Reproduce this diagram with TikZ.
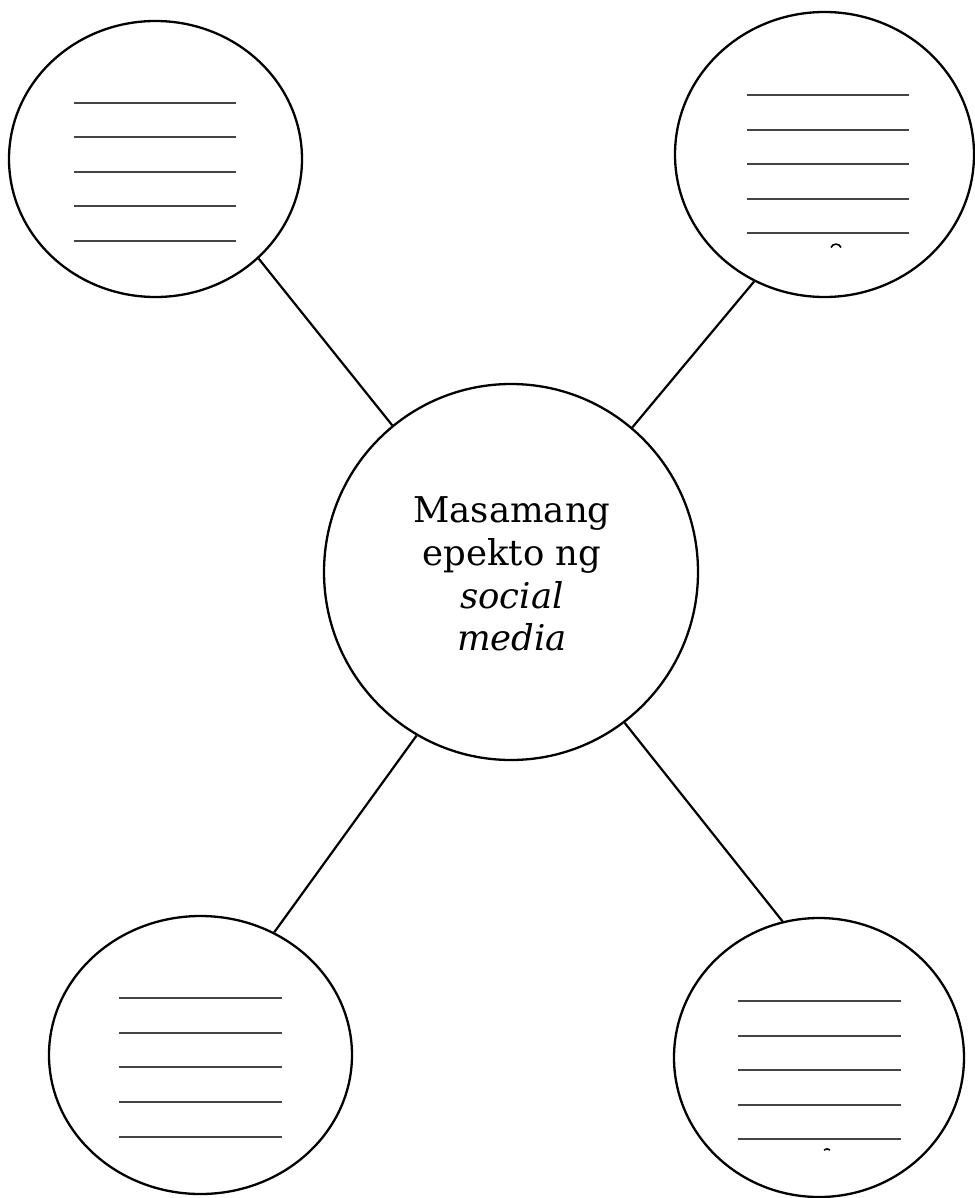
\documentclass[tikz,border=0pt]{standalone}
\usepackage{fontspec}
\setmainfont{DejaVu Serif}
\usetikzlibrary{shapes.geometric}
\definecolor{blankgray}{HTML}{444444}
\tikzset{
  bubble/.style={draw=black, line width=2.3pt, ellipse, inner sep=0pt, fill=white},
  link/.style={draw=black, line width=2.2pt},
  blank/.style={draw=blankgray, line width=1.5pt},
  glyphbit/.style={draw=black, line width=1.6pt},
  lbl/.style={anchor=base, inner sep=0pt, font=\fontsize{35.5}{43}\selectfont}
}
\begin{document}
\begin{tikzpicture}[x=1pt, y=-1pt]
\useasboundingbox (0,0) rectangle (974,1198);
% bubbles
\node[bubble, minimum width=293pt, minimum height=276pt] (tl) at (155.5,159) {};
\node[bubble, minimum width=299pt, minimum height=285pt] (tr) at (824.5,154.5) {};
\node[bubble, minimum width=303pt, minimum height=278pt] (bl) at (200.5,1055) {};
\node[bubble, minimum width=290pt, minimum height=279pt] (br) at (819,1057.5) {};
\node[bubble, minimum width=374pt, minimum height=376pt] (c) at (511,572) {};
% connectors
\draw[link] (tl.-44.6) -- (c.129.8);
\draw[link] (tr.-119) -- (c.50.6);
\draw[link] (bl.59.8) -- (c.-120.2);
\draw[link] (br.105.2) -- (c.-53.4);
% centre text
\node[lbl] (t1) at (512,522) {Masamang};
\node[lbl] (t2) at (512,565) {epekto ng};
\node[lbl] (t3) at (512,608) {\itshape social};
\node[lbl] (t4) at (512,650) {\itshape media};
% blank lines
\foreach \y in {103,137,172,206,241} \draw[blank] (74,\y) -- (236,\y);
\foreach \y in {95,130,164,199,233} \draw[blank] (747,\y) -- (909,\y);
\foreach \y in {998,1033,1067,1102,1137} \draw[blank] (119,\y) -- (282,\y);
\foreach \y in {1001,1036,1070,1105,1139} \draw[blank] (738,\y) -- (901,\y);
% clipped glyph remnants
\draw[glyphbit] (831,247.5) .. controls (832.5,243) and (839.5,243) .. (841,247.5);
\draw[glyphbit] (824,1150) .. controls (826,1148.5) and (828,1148.5) .. (830,1150);
\end{tikzpicture}
\end{document}
